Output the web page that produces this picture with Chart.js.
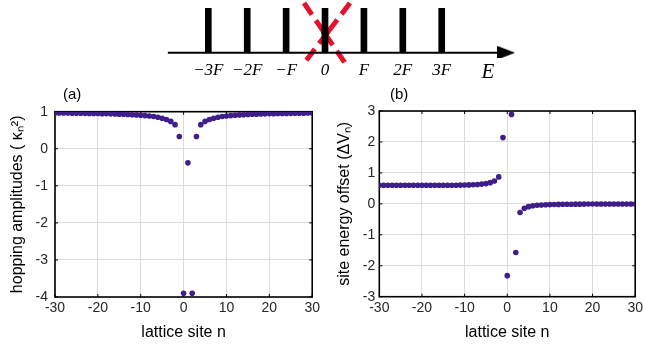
<!DOCTYPE html>
<html>
<head>
<meta charset="utf-8">
<script src="https://cdn.jsdelivr.net/npm/chart.js@4.4.1/dist/chart.umd.min.js"></script>
<style>
  body { margin: 0; background: #fff; width: 646px; height: 345px; position: relative; overflow: hidden;
         font-family: 'Liberation Sans', Arial, sans-serif; }
  .box { position: absolute; }
  .tag { position: absolute; font-size: 15px; line-height: 16px; color: #000; }
</style>
</head>
<body>
<div class="box" style="left:150px;top:0;"><canvas id="ladder" width="380" height="85"></canvas></div>
<div class="box" style="left:0;top:85px;"><canvas id="hop" width="323" height="260"></canvas></div>
<div class="box" style="left:320px;top:85px;"><canvas id="site" width="326" height="260"></canvas></div>
<div class="tag" style="left:63px;top:86px">(a)</div>
<div class="tag" style="left:390px;top:86px">(b)</div>
<script>
// ---- data ----
const sites = [-30, -29, -28, -27, -26, -25, -24, -23, -22, -21, -20, -19, -18, -17, -16, -15,
  -14, -13, -12, -11, -10, -9, -8, -7, -6, -5, -4, -3, -2, -1, 0, 1, 2, 3, 4, 5, 6, 7, 8, 9, 10,
  11, 12, 13, 14, 15, 16, 17, 18, 19, 20, 21, 22, 23, 24, 25, 26, 27, 28, 29, 30];

// (a) hopping amplitudes kappa_n^2
const hopping = [0.966, 0.965, 0.964, 0.963, 0.961, 0.960, 0.958, 0.956, 0.954, 0.952,
  0.950, 0.948, 0.945, 0.942, 0.938, 0.934, 0.930, 0.925, 0.919, 0.913,
  0.905, 0.895, 0.883, 0.869, 0.850, 0.825, 0.790, 0.738, 0.650, 0.330,
  -3.900, -0.380, -3.900,
  0.330, 0.650, 0.738, 0.790, 0.825, 0.850, 0.869, 0.883, 0.895, 0.905,
  0.913, 0.919, 0.925, 0.930, 0.934, 0.938, 0.942, 0.945, 0.948, 0.950,
  0.952, 0.954, 0.956, 0.958, 0.960, 0.961, 0.963, 0.964];

// (b) site energy offset Delta V_n
const siteOffset = [0.600, 0.600, 0.600, 0.600, 0.600, 0.600, 0.600, 0.600, 0.600, 0.600,
  0.600, 0.600, 0.600, 0.600, 0.600, 0.600, 0.600, 0.600,
  0.603, 0.605, 0.608, 0.612, 0.618, 0.626, 0.638, 0.655, 0.685, 0.735, 0.870, 2.140,
  -2.320, 2.890, -1.570,
  -0.280, -0.140, -0.090, -0.062, -0.046, -0.036, -0.029, -0.024, -0.020, -0.017,
  -0.015, -0.013, -0.011, -0.010, -0.009, -0.008, -0.007, -0.006, -0.005, -0.005,
  -0.005, -0.005, -0.005, -0.005, -0.005, -0.005, -0.005, -0.005];

const siteTicks = [-30, -20, -10, 0, 10, 20, 30];
const hopTicks = [-4, -3, -2, -1, 0, 1];
const offsetTicks = [-3, -2, -1, 0, 1, 2, 3];

// Wannier-Stark ladder sketch
const ladderSteps = [-3, -2, -1, 0, 1, 2, 3];
const ladderHeights = [1, 1, 1, 1, 1, 1, 1];
const ladderLabels = ['−3F', '−2F', '−F', '0', 'F', '2F', '3F'];
const energyAxis = { start: -4.04, end: 4.5, head: 4.653, label: 'E', labelAt: 4.19 };
const blockedLevel = [{ x: 0, y: 0.44 }];
const crossA = [{ x: -0.54, y: 1.12 }, { x: 0.514, y: -0.232 }];
const crossB = [{ x: 0.643, y: 1.12 }, { x: -0.514, y: -0.21 }];

// ---- styles ----
const dotColor = '#3f1d8a';
const gridColor = '#dcdcdc';
const tickColor = '#262626';
const sans = "'Liberation Sans', Arial, sans-serif";
const serif = "'Liberation Serif', 'Times New Roman', serif";

// black box + inward ticks, matlab style
const framePlugin = {
  id: 'frame',
  beforeDatasetsDraw(chart) {
    const { ctx, chartArea: a } = chart;
    const x = chart.scales.x, y = chart.scales.y;
    ctx.save();
    ctx.strokeStyle = '#000';
    ctx.lineWidth = 1;
    ctx.beginPath();
    x.ticks.forEach(t => {
      const px = x.getPixelForValue(t.value);
      ctx.moveTo(px, a.bottom); ctx.lineTo(px, a.bottom - 3);
      ctx.moveTo(px, a.top); ctx.lineTo(px, a.top + 3);
    });
    y.ticks.forEach(t => {
      const py = y.getPixelForValue(t.value);
      ctx.moveTo(a.left, py); ctx.lineTo(a.left + 3, py);
      ctx.moveTo(a.right, py); ctx.lineTo(a.right - 3, py);
    });
    ctx.stroke();
    ctx.lineWidth = 1.6;
    ctx.strokeRect(a.left, a.top, a.right - a.left, a.bottom - a.top);
    ctx.restore();
  }
};

function panel(id, values, yTicks, yTitle, box) {
  return new Chart(document.getElementById(id), {
    type: 'scatter',
    data: {
      datasets: [{
        data: sites.map((n, i) => ({ x: n, y: values[i] })),
        backgroundColor: dotColor,
        borderWidth: 0,
        pointRadius: 2.8
      }]
    },
    options: {
      responsive: false,
      animation: false,
      events: [],
      layout: { autoPadding: false, padding: { left: 0, top: box.top, right: box.right, bottom: 0 } },
      plugins: { legend: { display: false }, tooltip: { enabled: false } },
      scales: {
        x: {
          type: 'linear', min: siteTicks[0], max: siteTicks[siteTicks.length - 1],
          afterBuildTicks: s => { s.ticks = siteTicks.map(v => ({ value: v })); },
          afterFit: s => { s.height = box.xHeight; },
          ticks: { color: tickColor, font: { family: sans, size: 14 }, padding: 3, maxRotation: 0 },
          grid: { color: gridColor, drawTicks: false },
          border: { display: false },
          title: { display: true, text: 'lattice site n', color: '#000',
                   font: { family: sans, size: 16 }, padding: 3 }
        },
        y: {
          min: yTicks[0], max: yTicks[yTicks.length - 1],
          afterBuildTicks: s => { s.ticks = yTicks.map(v => ({ value: v })); },
          afterFit: s => { s.width = box.yWidth; },
          ticks: { color: tickColor, font: { family: sans, size: 14 }, padding: box.tickPad },
          grid: { color: gridColor, drawTicks: false },
          border: { display: false },
          title: { display: true, text: yTitle, color: '#000',
                   font: { family: sans, size: 16 }, padding: box.titlePad }
        }
      }
    },
    plugins: [framePlugin]
  });
}

panel('hop', hopping, hopTicks, 'hopping amplitudes ( κₙ²)',
  { top: 26.7, right: 10, xHeight: 48, yWidth: 55, tickPad: 7, titlePad: 8 });
panel('site', siteOffset, offsetTicks, 'site energy offset (ΔVₙ)',
  { top: 26, right: 6, xHeight: 48.3, yWidth: 59.3, tickPad: 4, titlePad: 15 });

// arrow head as a point style
const arrowHead = document.createElement('canvas');
arrowHead.width = 18; arrowHead.height = 14;
(function () {
  const c = arrowHead.getContext('2d');
  c.fillStyle = '#000';
  c.beginPath(); c.moveTo(0, 0); c.lineTo(18, 7); c.lineTo(0, 14); c.closePath(); c.fill();
})();

const ladderTicks = ladderSteps.concat([energyAxis.labelAt]);

new Chart(document.getElementById('ladder'), {
  type: 'scatter',
  data: {
    datasets: [
      { type: 'line', data: [{ x: energyAxis.start, y: 0 }, { x: energyAxis.end, y: 0 }],
        borderColor: '#000', borderWidth: 2, pointRadius: 0, clip: false },
      { type: 'scatter', data: [{ x: energyAxis.head, y: 0 }], pointStyle: arrowHead, pointRadius: 9 },
      { type: 'bar', data: ladderSteps.map((s, i) => ({ x: s, y: ladderHeights[i] })),
        backgroundColor: '#000', barThickness: 6 },
      { type: 'scatter', data: blockedLevel, backgroundColor: '#000', borderWidth: 0, pointRadius: 3.5 },
      { type: 'line', data: crossA, borderColor: '#e3122d', borderWidth: 5, borderDash: [14, 7, 30, 7],
        borderCapStyle: 'butt', pointRadius: 0, clip: false },
      { type: 'line', data: crossB, borderColor: '#e3122d', borderWidth: 5, borderDash: [14, 7, 30, 7],
        borderCapStyle: 'butt', pointRadius: 0, clip: false }
    ]
  },
  options: {
    responsive: false,
    animation: false,
    events: [],
    layout: { autoPadding: false, padding: { left: 10, top: 0, right: 5, bottom: 0 } },
    plugins: { legend: { display: false }, tooltip: { enabled: false } },
    scales: {
      x: {
        type: 'linear', min: -4.242, max: 5.141, offset: false,
        afterBuildTicks: s => { s.ticks = ladderTicks.map(v => ({ value: v })); },
        afterFit: s => { s.height = 27; },
        ticks: {
          color: '#000', padding: -6, maxRotation: 0, autoSkip: false,
          callback: (v, i) => i < ladderLabels.length ? ladderLabels[i] : energyAxis.label,
          font: ctx => ({ family: serif, style: 'italic',
                          size: ctx.index < ladderLabels.length ? 17 : 21 })
        },
        grid: { display: false },
        border: { display: false }
      },
      y: { display: false, min: -0.119, max: 1.187 }
    }
  }
});
</script>
</body>
</html>
